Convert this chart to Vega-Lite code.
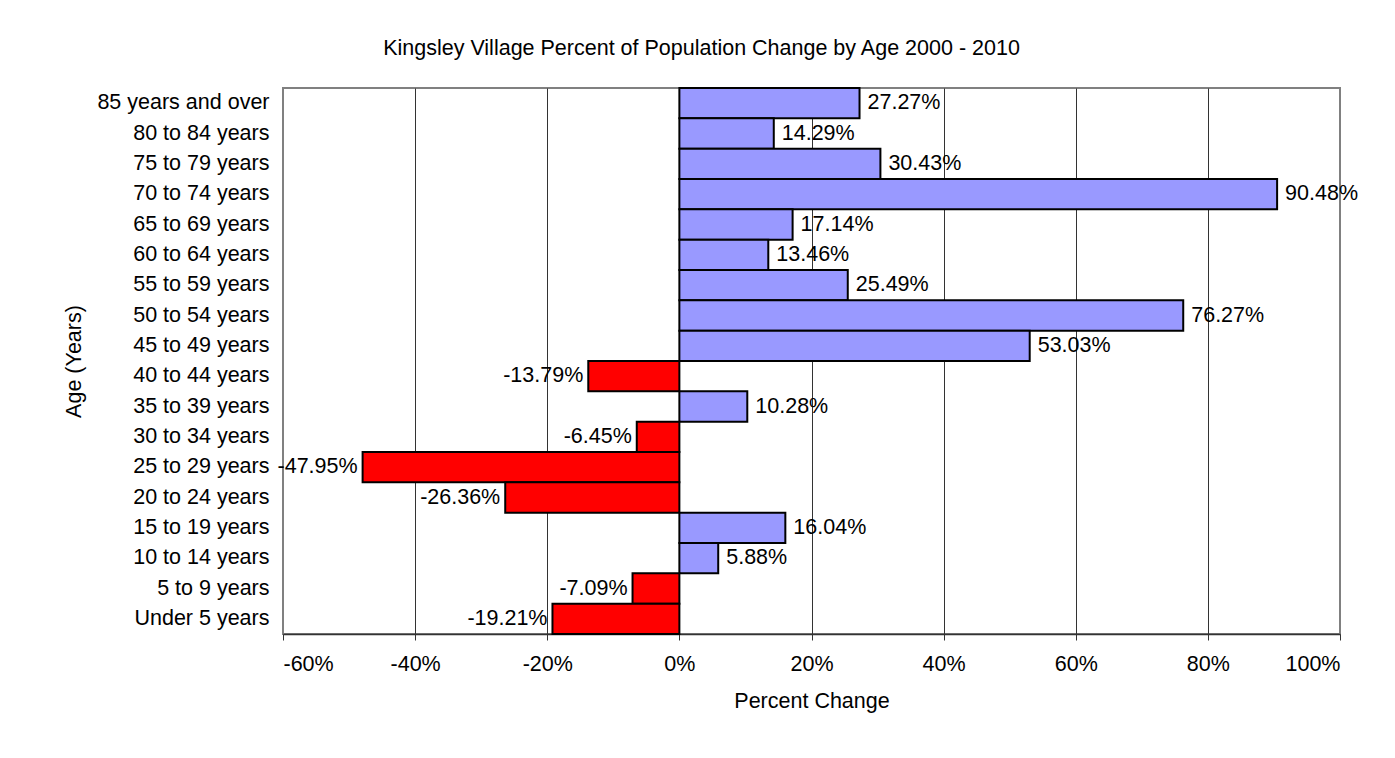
{
  "$schema": "https://vega.github.io/schema/vega-lite/v6.json",
  "width": 1057,
  "height": 546,
  "autosize": {"type": "none"},
  "padding": {"left": 283, "top": 88, "right": 55, "bottom": 124},
  "background": "white",
  "title": {
    "text": "Kingsley Village Percent of Population Change by Age 2000 - 2010",
    "anchor": "middle",
    "dx": -110,
    "offset": 28,
    "fontSize": 21.5,
    "fontWeight": "normal",
    "font": "Liberation Sans",
    "color": "#000"
  },
  "config": {
    "locale": {"number": {"decimal": ".", "thousands": ",", "grouping": [3], "currency": ["$", ""], "minus": "-"}},
    "view": {"stroke": "#808080", "strokeWidth": 2},
    "font": "Liberation Sans",
    "axis": {"labelFont": "Liberation Sans", "titleFont": "Liberation Sans", "labelColor": "#000", "titleColor": "#000", "titleFontWeight": "normal"}
  },
  "data": {
    "values": [
      {"age": "85 years and over", "value": 0.2727},
      {"age": "80 to 84 years", "value": 0.1429},
      {"age": "75 to 79 years", "value": 0.3043},
      {"age": "70 to 74 years", "value": 0.9048},
      {"age": "65 to 69 years", "value": 0.1714},
      {"age": "60 to 64 years", "value": 0.1346},
      {"age": "55 to 59 years", "value": 0.2549},
      {"age": "50 to 54 years", "value": 0.7627},
      {"age": "45 to 49 years", "value": 0.5303},
      {"age": "40 to 44 years", "value": -0.1379},
      {"age": "35 to 39 years", "value": 0.1028},
      {"age": "30 to 34 years", "value": -0.0645},
      {"age": "25 to 29 years", "value": -0.4795},
      {"age": "20 to 24 years", "value": -0.2636},
      {"age": "15 to 19 years", "value": 0.1604},
      {"age": "10 to 14 years", "value": 0.0588},
      {"age": "5 to 9 years", "value": -0.0709},
      {"age": "Under 5 years", "value": -0.1921}
    ]
  },
  "encoding": {
    "y": {
      "field": "age",
      "type": "nominal",
      "sort": null,
      "scale": {"paddingInner": 0, "paddingOuter": 0},
      "axis": {
        "title": "Age (Years)",
        "titleFontSize": 21.5,
        "titlePadding": 11,
        "labelFontSize": 21.5,
        "labelPadding": 14,
        "ticks": false,
        "domain": false,
        "grid": false
      }
    },
    "x": {
      "field": "value",
      "type": "quantitative",
      "scale": {"domain": [-0.6, 1.0], "nice": false, "zero": false},
      "axis": {
        "title": "Percent Change",
        "titleFontSize": 21.5,
        "titlePadding": 16,
        "labelFontSize": 21.5,
        "labelPadding": 13,
        "format": ".0%",
        "values": [-0.6, -0.4, -0.2, 0, 0.2, 0.4, 0.6, 0.8, 1.0],
        "tickSize": 6,
        "tickColor": "#333",
        "domainColor": "#333",
        "domainWidth": 1.5,
        "grid": true,
        "gridColor": {"condition": {"test": "datum.value <= -0.59 || datum.value >= 0.99", "value": "transparent"}, "value": "#333"},
        "gridWidth": 1
      }
    }
  },
  "layer": [
    {
      "mark": {"type": "bar", "stroke": "#000", "strokeWidth": 2},
      "encoding": {
        "color": {"condition": {"test": "datum.value < 0", "value": "#FF0000"}, "value": "#9999FF"}
      }
    },
    {
      "transform": [{"filter": "datum.value >= 0"}],
      "mark": {"type": "text", "align": "left", "baseline": "middle", "dx": 8, "fontSize": 21.5, "font": "Liberation Sans", "color": "#000"},
      "encoding": {"text": {"field": "value", "type": "quantitative", "format": ".2%"}}
    },
    {
      "transform": [{"filter": "datum.value < 0"}],
      "mark": {"type": "text", "align": "right", "baseline": "middle", "dx": -5, "fontSize": 21.5, "font": "Liberation Sans", "color": "#000"},
      "encoding": {"text": {"field": "value", "type": "quantitative", "format": ".2%"}}
    }
  ]
}
